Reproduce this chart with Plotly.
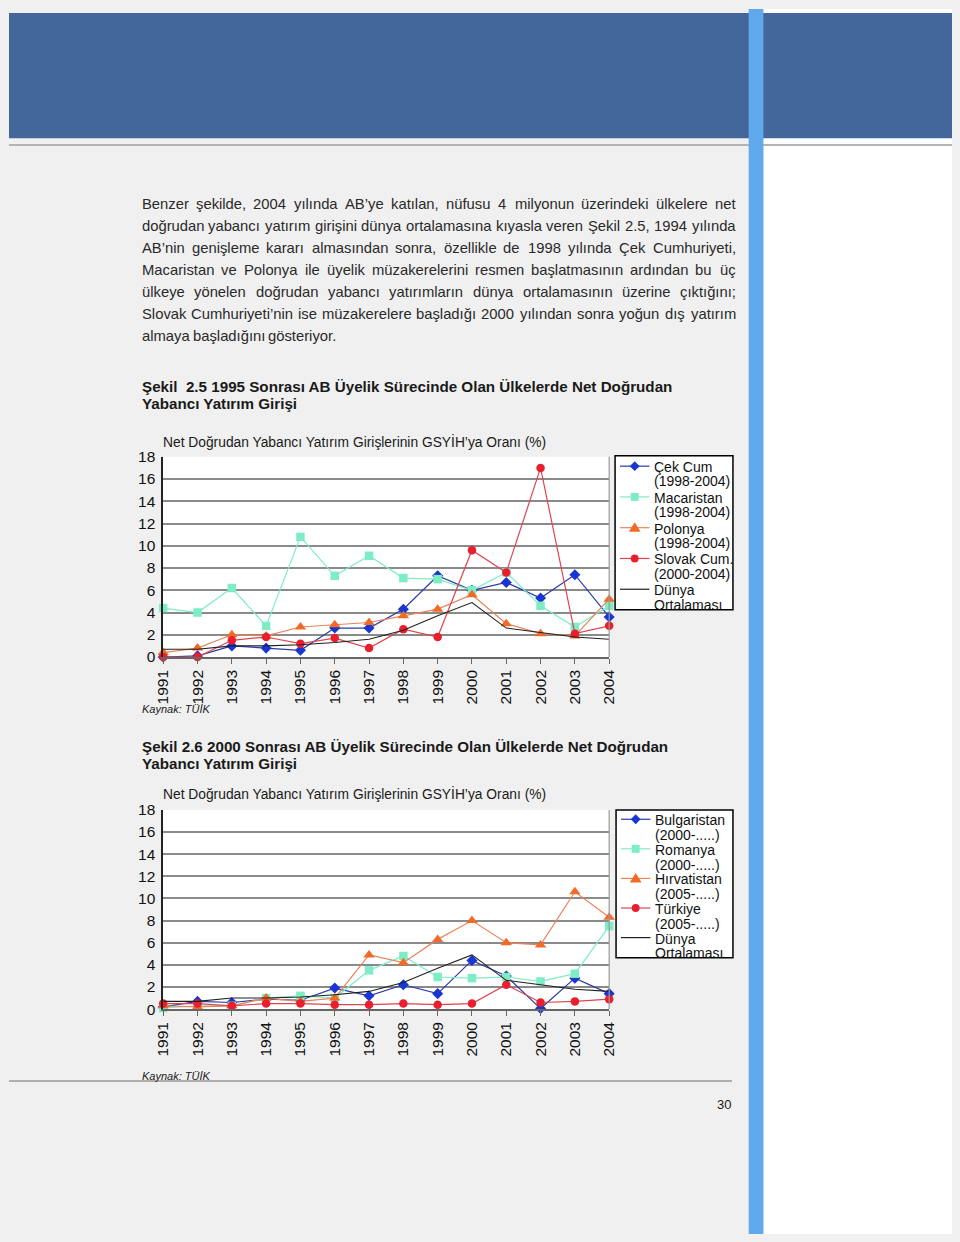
import plotly.graph_objects as go

W, H = 960, 1242
FONT = "Liberation Sans, Arial, sans-serif"

years = list(range(1991, 2005))

# Chart 2.5
cek = [0.0, 0.1, 1.0, 0.8, 0.6, 2.6, 2.6, 4.3, 7.3, 6.0, 6.7, 5.3, 7.4, 3.6]
macaristan = [4.4, 4.0, 6.2, 2.8, 10.8, 7.3, 9.1, 7.1, 7.0, 6.0, 7.6, 4.6, 2.7, 4.6]
polonya = [0.4, 0.8, 2.0, 1.9, 2.7, 2.9, 3.1, 3.7, 4.3, 5.6, 3.0, 2.1, 1.9, 5.2]
slovak = [0.0, 0.0, 1.5, 1.8, 1.2, 1.7, 0.8, 2.5, 1.8, 9.6, 7.6, 17.0, 2.1, 2.8]
dunya = [0.7, 0.7, 1.0, 1.0, 1.1, 1.3, 1.6, 2.4, 3.7, 4.9, 2.6, 2.2, 1.8, 1.6]

# Chart 2.6
bulgaristan = [0.2, 0.7, 0.6, 0.9, 0.8, 1.9, 1.2, 2.2, 1.4, 4.4, 3.0, 0.05, 2.8, 1.4]
romanya = [0.1, 0.3, 0.3, 1.0, 1.2, 1.0, 3.5, 4.8, 2.9, 2.8, 2.9, 2.5, 3.2, 7.5]
hirvatistan = [0.3, 0.2, 0.3, 1.0, 0.7, 1.0, 4.9, 4.2, 6.3, 8.0, 6.0, 5.8, 10.6, 8.3]
turkiye = [0.5, 0.5, 0.3, 0.5, 0.5, 0.4, 0.4, 0.5, 0.4, 0.5, 2.2, 0.6, 0.7, 0.9]

names1 = [["Çek Cum", "(1998-2004)"], ["Macaristan", "(1998-2004)"], ["Polonya", "(1998-2004)"],
          ["Slovak Cum.", "(2000-2004)"], ["Dünya", "Ortalaması"]]
names2 = [["Bulgaristan", "(2000-.....)"], ["Romanya", "(2000-.....)"], ["Hırvatistan", "(2005-.....)"],
          ["Türkiye", "(2005-.....)"], ["Dünya", "Ortalaması"]]

yticks = list(range(0, 19, 2))

para = [
    "Benzer şekilde, 2004 yılında AB’ye katılan, nüfusu 4 milyonun üzerindeki ülkelere net",
    "doğrudan yabancı yatırım girişini dünya ortalamasına kıyasla veren Şekil 2.5, 1994 yılında",
    "AB’nin genişleme kararı almasından sonra, özellikle de 1998 yılında Çek Cumhuriyeti,",
    "Macaristan ve Polonya ile üyelik müzakerelerini resmen başlatmasının ardından bu üç",
    "ülkeye yönelen doğrudan yabancı yatırımların dünya ortalamasının üzerine çıktığını;",
    "Slovak Cumhuriyeti’nin ise müzakerelere başladığı 2000 yılından sonra yoğun dış yatırım",
    "almaya başladığını gösteriyor.",
]
chart_title = "Net Doğrudan Yabancı Yatırım Girişlerinin GSYİH’ya Oranı (%)"
head1 = ["Şekil \u00a02.5 1995 Sonrası AB Üyelik Sürecinde Olan Ülkelerde Net Doğrudan",
         "Yabancı Yatırım Girişi"]
head2 = ["Şekil 2.6 2000 Sonrası AB Üyelik Sürecinde Olan Ülkelerde Net Doğrudan",
         "Yabancı Yatırım Girişi"]
source = "Kaynak: TÜİK"

# Arial / Liberation Sans advance widths (per 1000 em)
AW = {}
for ch, w in [("abdeghnopqu", 556), ("ck sxyzvç", 500), ("ş", 500), ("ğüö", 556), ("fıt", 278),
              ("ijl", 222), ("m", 833), ("r", 333), ("w", 722), ("0123456789", 556),
              (",.;:", 278), ("’'", 222), (" ", 278),
              ("ABEKPSVXYŞ", 667), ("CDHNRUÇÜ", 722), ("FTZ", 611), ("GOQ", 778),
              ("Iİ", 278), ("J", 500), ("L", 556), ("M", 833), ("W", 944)]:
    for c in ch:
        AW[c] = w


def twidth(s, size):
    return sum(AW.get(c, 556) for c in s) * size / 1000.0


def px(x):
    return x / W


def py(y):
    return 1 - y / H


styles = [
    dict(marker=dict(symbol="diamond", size=8.5, color="#1a36d2"), line=dict(color="#2a3aa8", width=1.2)),
    dict(marker=dict(symbol="square", size=8.5, color="#7eecc4"), line=dict(color="#7eecc4", width=1.2)),
    dict(marker=dict(symbol="triangle-up", size=10, color="#f26a28"), line=dict(color="#e8845a", width=1.2)),
    dict(marker=dict(symbol="circle", size=8.5, color="#ea1f2e"), line=dict(color="#e0454f", width=1.2)),
    dict(line=dict(color="#202020", width=1.1)),
]

fig = go.Figure()


def add_chart(series, names, xa, ya):
    for s, n, st in zip(series, names, styles):
        mode = "lines+markers" if "marker" in st else "lines"
        fig.add_trace(go.Scatter(x=years, y=s, name=" ".join(n), mode=mode, xaxis=xa, yaxis=ya,
                                 showlegend=False, cliponaxis=False, **st))


add_chart([cek, macaristan, polonya, slovak, dunya], names1, "x", "y")
add_chart([bulgaristan, romanya, hirvatistan, turkiye, dunya], names2, "x2", "y2")

x0, x1 = 157, 611
c1_top, c1_bot = 454, 657
c2_top, c2_bot = 812, 1014

xa_common = dict(range=[1991, 2004], tickmode="array", tickvals=years, ticktext=[str(y) for y in years],
                 tickangle=-90, tickfont=dict(size=15.5, color="#111", family=FONT), showgrid=False,
                 zeroline=False, showline=True, linecolor="#666", linewidth=1.5, ticks="outside",
                 ticklen=5, tickcolor="#666", domain=[px(x0), px(x1)])
ya_common = dict(range=[0, 18], tickvals=yticks, tickfont=dict(size=15.5, color="#111", family=FONT),
                 showgrid=True, gridcolor="#8a8a8a", gridwidth=1.6, zeroline=False, showline=True,
                 linecolor="#222", linewidth=1.5, ticks="", ticklabelstandoff=3)

fig.update_layout(
    width=W, height=H, margin=dict(l=0, r=0, t=0, b=0),
    paper_bgcolor="#f0f0f0", plot_bgcolor="#ffffff",
    font=dict(family=FONT, color="#222"),
    xaxis=dict(anchor="y", **xa_common),
    yaxis=dict(anchor="x", domain=[py(c1_bot), py(c1_top)], **ya_common),
    xaxis2=dict(anchor="y2", **xa_common),
    yaxis2=dict(anchor="x2", domain=[py(c2_bot), py(c2_top)], **ya_common),
    showlegend=False,
)

shapes = []
# right white area
shapes.append(dict(type="rect", xref="paper", yref="paper", x0=px(768), x1=1, y0=0, y1=1,
                   fillcolor="#ffffff", line=dict(width=0), layer="below"))
# banner
shapes.append(dict(type="rect", xref="paper", yref="paper", x0=0, x1=1, y0=py(131), y1=py(4),
                   fillcolor="#43679b", line=dict(width=0), layer="below"))
shapes.append(dict(type="line", xref="paper", yref="paper", x0=0, x1=1, y0=py(138), y1=py(138),
                   line=dict(color="#b4b4b4", width=2), layer="below"))
# side stripe
shapes.append(dict(type="rect", xref="paper", yref="paper", x0=px(753), x1=px(768), y0=0, y1=1,
                   fillcolor="#60a9ea", line=dict(width=0), layer="below"))
# bottom rule
shapes.append(dict(type="line", xref="paper", yref="paper", x0=0, x1=px(736), y0=py(1087), y1=py(1087),
                   line=dict(color="#9a9a9a", width=1.5), layer="below"))
# plot right border
for top, bot in [(c1_top, c1_bot), (c2_top, c2_bot)]:
    shapes.append(dict(type="line", xref="paper", yref="paper", x0=px(x1), x1=px(x1), y0=py(bot), y1=py(top),
                       line=dict(color="#9a9a9a", width=1.2), layer="above"))

ann = []


# manual legends (box, glyphs, text)
def legend_glyph(kind, cx, cy, color):
    if kind == "diamond":
        pts = [(cx, cy - 5), (cx + 5, cy), (cx, cy + 5), (cx - 5, cy)]
    elif kind == "square":
        pts = [(cx - 4, cy - 4), (cx + 4, cy - 4), (cx + 4, cy + 4), (cx - 4, cy + 4)]
    elif kind == "triangle":
        pts = [(cx, cy - 5.5), (cx + 6, cy + 4), (cx - 6, cy + 4)]
    else:
        shapes.append(dict(type="circle", xref="paper", yref="paper", x0=px(cx - 4), x1=px(cx + 4),
                           y0=py(cy + 4), y1=py(cy - 4), fillcolor=color, line=dict(width=0)))
        return
    path = "M " + " L ".join(f"{px(a):.5f},{py(b):.5f}" for a, b in pts) + " Z"
    shapes.append(dict(type="path", xref="paper", yref="paper", path=path, fillcolor=color, line=dict(width=0)))


kinds = ["diamond", "square", "triangle", "circle", None]
mcolors = ["#1a36d2", "#7eecc4", "#f26a28", "#ea1f2e", None]
lcolors = ["#2a3aa8", "#7eecc4", "#e8845a", "#e0454f", "#202020"]


def add_legend(names, box, gx0, gx1, tx, ytop, step, lstep):
    bx0, by0, bx1, by1 = box
    shapes.append(dict(type="rect", xref="paper", yref="paper", x0=px(bx0), x1=px(bx1), y0=py(by1), y1=py(by0),
                       fillcolor="#ffffff", line=dict(color="#000", width=1.5)))
    for i, (nm, k, mc, lc) in enumerate(zip(names, kinds, mcolors, lcolors)):
        gy = ytop + i * step
        shapes.append(dict(type="line", xref="paper", yref="paper", x0=px(gx0), x1=px(gx1), y0=py(gy), y1=py(gy),
                           line=dict(color=lc, width=1.2)))
        if k:
            legend_glyph(k, (gx0 + gx1) / 2, gy, mc)
        for j, t in enumerate(nm):
            ann.append(dict(text=t, x=px(tx), y=py(gy + 1 + j * lstep), xref="paper", yref="paper",
                            xanchor="left", yanchor="middle", showarrow=False,
                            font=dict(size=14, color="#111", family=FONT)))


add_legend(names1, (617, 453, 737, 609), 622, 652, 655, 463.5, 31.2, 14.5)
add_legend(names2, (618, 812, 737, 962), 623, 653, 656, 821.5, 30.0, 15.0)

fig.update_layout(shapes=shapes)

# justified paragraph
PSIZE = 14.8
LEFT, RIGHT = 133, 737
for i, t in enumerate(para):
    yy = py(198 + i * 22.2)
    words = t.split(" ")
    widths = [twidth(w, PSIZE) for w in words]
    if i < len(para) - 1:
        gap = (RIGHT - LEFT - sum(widths)) / (len(words) - 1)
    else:
        gap = twidth(" ", PSIZE)
    xcur = LEFT
    for w, wd in zip(words, widths):
        ann.append(dict(text=w, x=px(xcur), y=yy, xref="paper", yref="paper",
                        xanchor="left", yanchor="middle", showarrow=False,
                        font=dict(size=PSIZE, color="#2a2a2a", family=FONT)))
        xcur += wd + gap

for hd, ys in [(head1, (383, 400)), (head2, (748, 765))]:
    for t, yy in zip(hd, ys):
        ann.append(dict(text="<b>" + t + "</b>", x=px(133), y=py(yy), xref="paper", yref="paper",
                        xanchor="left", yanchor="middle", showarrow=False,
                        font=dict(size=15.2, color="#1a1a1a", family=FONT)))
for yy in (438, 795):
    ann.append(dict(text=chart_title, x=px(155), y=py(yy), xref="paper", yref="paper",
                    xanchor="left", yanchor="middle", showarrow=False,
                    font=dict(size=13.8, color="#1a1a1a", family=FONT)))
for yy in (710, 1082):
    ann.append(dict(text="<i>" + source + "</i>", x=px(133), y=py(yy), xref="paper", yref="paper",
                    xanchor="left", yanchor="middle", showarrow=False,
                    font=dict(size=11, color="#1a1a1a", family=FONT)))
ann.append(dict(text="30", x=px(737), y=py(1111), xref="paper", yref="paper",
                xanchor="right", yanchor="middle", showarrow=False,
                font=dict(size=13, color="#1a1a1a", family=FONT)))
fig.update_layout(annotations=ann)

fig.write_html("out.html", config={"displayModeBar": False},
               post_script="document.body.style.margin='0px';document.body.style.padding='0px';"
                           "document.body.style.overflow='hidden';")
